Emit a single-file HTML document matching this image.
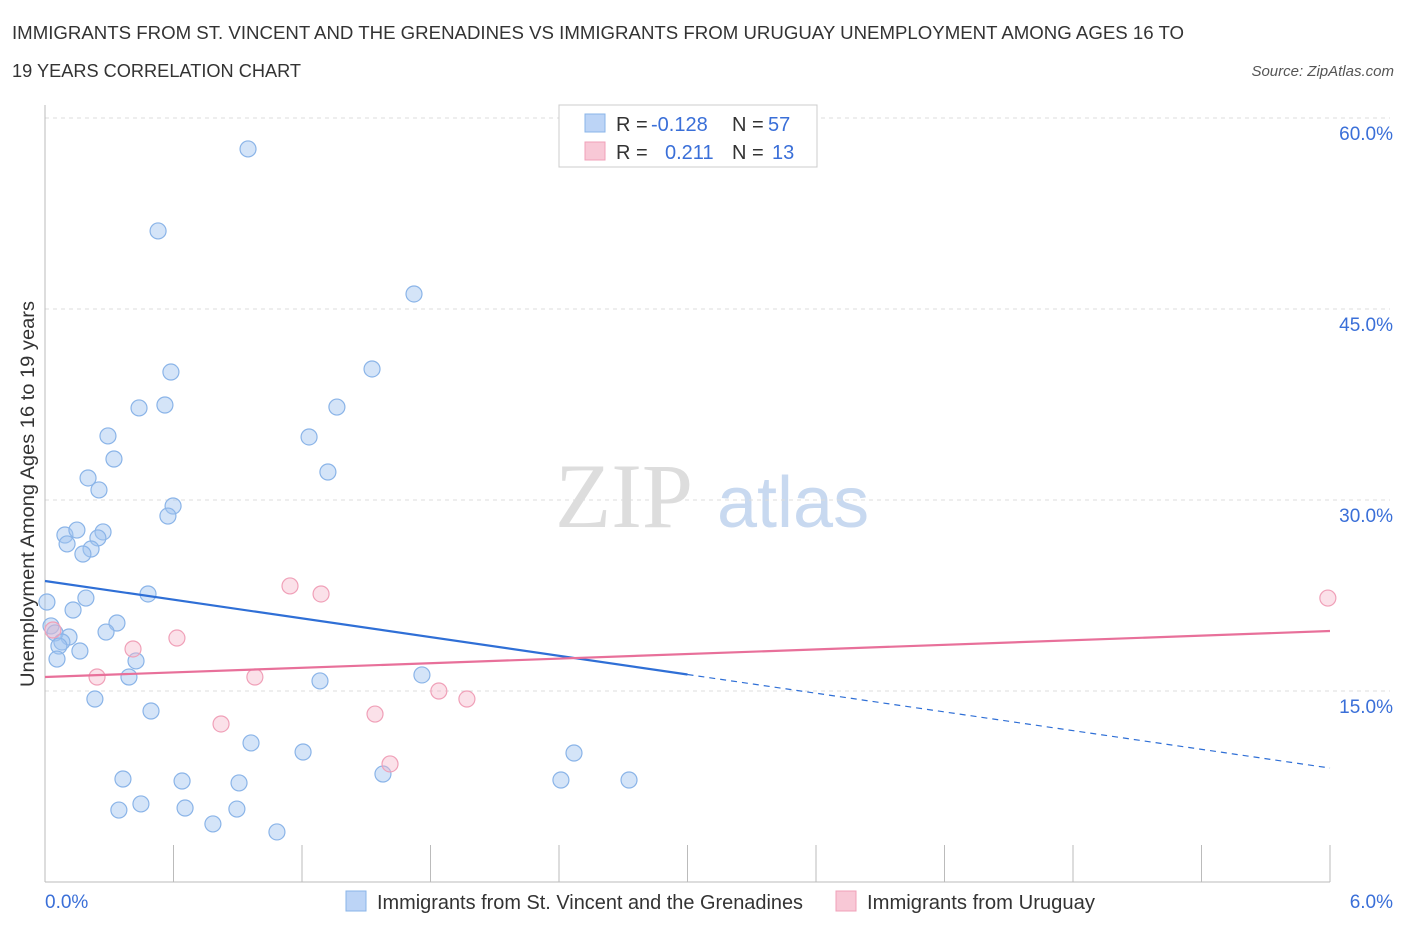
<!DOCTYPE html>
<html><head><meta charset="utf-8"><style>
body{margin:0;background:#fff;font-family:"Liberation Sans",sans-serif;}
</style></head><body>
<svg id="chart" width="1406" height="930" xmlns="http://www.w3.org/2000/svg" font-family="Liberation Sans, sans-serif">
<text x="12" y="39" font-size="18" fill="#333" textLength="1172" lengthAdjust="spacingAndGlyphs">IMMIGRANTS FROM ST. VINCENT AND THE GRENADINES VS IMMIGRANTS FROM URUGUAY UNEMPLOYMENT AMONG AGES 16 TO</text>
<text x="12" y="77" font-size="18" fill="#333" textLength="289" lengthAdjust="spacingAndGlyphs">19 YEARS CORRELATION CHART</text>
<text x="1394" y="76" font-size="15" fill="#555" text-anchor="end" font-style="italic">Source: ZipAtlas.com</text>
<text x="555" y="527" font-size="92" fill="#ddd" font-family="Liberation Serif, serif">ZIP</text>
<text x="717" y="527" font-size="72" fill="#c8d9f0">atlas</text>
<text transform="translate(34,494) rotate(-90)" font-size="19" fill="#333" text-anchor="middle" textLength="386" lengthAdjust="spacingAndGlyphs">Unemployment Among Ages 16 to 19 years</text>
<g id="grid"></g><g id="marks"></g>
<g font-size="20" fill="#333">
<rect x="559" y="105" width="258" height="62" fill="#fff" stroke="#ccc"/>
<rect x="585" y="114" width="20" height="18" fill="#bcd4f6" stroke="#8ab4e8"/>
<rect x="585" y="142" width="20" height="18" fill="#f8c8d6" stroke="#f0a0b8"/>
<text x="616" y="131">R =</text><text x="651" y="131" fill="#3a6fd8">-0.128</text>
<text x="732" y="131">N =</text><text x="768" y="131" fill="#3a6fd8">57</text>
<text x="616" y="159">R =</text><text x="665" y="159" fill="#3a6fd8">0.211</text>
<text x="732" y="159">N =</text><text x="772" y="159" fill="#3a6fd8">13</text>
</g>
<g>
<rect x="346" y="891" width="20" height="20" fill="#bcd4f6" stroke="#8ab4e8"/>
<text x="377" y="909" font-size="20" fill="#333" textLength="426" lengthAdjust="spacingAndGlyphs">Immigrants from St. Vincent and the Grenadines</text>
<rect x="836" y="891" width="20" height="20" fill="#f8c8d6" stroke="#f0a0b8"/>
<text x="867" y="909" font-size="20" fill="#333" textLength="228" lengthAdjust="spacingAndGlyphs">Immigrants from Uruguay</text>
</g>
</svg>
<script>
const blueX=[0.948,0.528,1.723,0.588,1.527,0.560,0.439,1.363,0.294,1.233,0.322,0.201,1.321,0.252,0.598,0.574,0.093,0.149,0.271,0.247,0.103,0.215,0.177,0.481,0.191,0.009,0.131,0.336,0.285,0.028,0.047,0.112,0.079,0.065,0.163,0.425,0.056,0.392,1.284,1.760,0.233,0.495,0.962,1.205,2.470,0.364,0.640,0.906,1.578,2.409,2.727,0.448,0.345,0.654,0.896,0.784,1.083];
const blueY=[57.57,51.13,46.18,40.05,40.29,37.46,37.23,37.30,35.03,34.95,33.22,31.73,32.20,30.79,29.53,28.74,27.25,27.64,27.49,27.02,26.55,26.15,25.76,22.62,22.30,21.99,21.36,20.34,19.63,20.11,19.56,19.24,18.85,18.53,18.14,17.36,17.51,16.10,15.79,16.26,14.37,13.43,10.92,10.21,10.13,8.09,7.93,7.78,8.48,8.01,8.01,6.13,5.65,5.81,5.73,4.56,3.93];
const pinkX=[1.144,1.289,5.99,0.616,0.037,0.411,0.243,0.980,1.839,1.970,0.822,1.541,1.611];
const pinkY=[23.25,22.62,22.30,19.16,19.79,18.30,16.10,16.10,15.00,14.37,12.41,13.19,9.27];
const blueTrend=[23.64,8.95]; const blueSolidEnd=3.0;
const pinkTrend=[16.10,19.71];
const yTicks=[15,30,45,60];
const xTicks=[0,0.6,1.2,1.8,2.4,3.0,3.6,4.2,4.8,5.4,6.0];
const NS="http://www.w3.org/2000/svg";
const sx=v=>45+v/6*1285, sy=v=>882-v/60*764;
function mk(t,a,p){const e=document.createElementNS(NS,t);for(const k in a)e.setAttribute(k,a[k]);p.appendChild(e);return e;}
const g=document.getElementById('grid'), m=document.getElementById('marks');
yTicks.forEach(t=>{const l=mk('line',{x1:45,x2:1390,y1:sy(t),y2:sy(t),stroke:'#ddd','stroke-dasharray':'4,4'},g);


const tx=mk('text',{x:1393,y:sy(t)+22,'font-size':19,fill:'#3a6fd8','text-anchor':'end'},g);tx.textContent=t.toFixed(1)+'%';

});
const ax=mk('line',{x1:45,x2:1330,y1:882,y2:882,stroke:'#bbb'},g);


const ay=mk('line',{x1:45,x2:45,y1:105,y2:882,stroke:'#bbb'},g);


xTicks.forEach(t=>{const l=mk('line',{x1:sx(t),x2:sx(t),y1:845,y2:882,stroke:'#bbb'},g);

});
[[0,'start',45],[6,'end',1393]].forEach(([v,a,x])=>{const tx=mk('text',{x:x,y:908,'font-size':19,fill:'#3a6fd8','text-anchor':a},g);tx.textContent=v.toFixed(1)+'%';

});
blueX.forEach((x,i)=>{const c=mk('circle',{cx:sx(x),cy:sy(blueY[i]),r:8,fill:'rgba(160,195,240,0.45)',stroke:'#8ab4e8','stroke-width':1.2},m);

});
pinkX.forEach((x,i)=>{const c=mk('circle',{cx:sx(x),cy:sy(pinkY[i]),r:8,fill:'rgba(245,180,200,0.4)',stroke:'#f0a0b8','stroke-width':1.2},m);

});
const by=x=>blueTrend[0]+(blueTrend[1]-blueTrend[0])*x/6;
const b1=mk('line',{x1:sx(0),y1:sy(by(0)),x2:sx(blueSolidEnd),y2:sy(by(blueSolidEnd)),stroke:'#2f6fd6','stroke-width':2.2},m);


const b2=mk('line',{x1:sx(blueSolidEnd),y1:sy(by(blueSolidEnd)),x2:sx(6),y2:sy(by(6)),stroke:'#2f6fd6','stroke-width':1.2,'stroke-dasharray':'6,5'},m);


const p1=mk('line',{x1:sx(0),y1:sy(pinkTrend[0]),x2:sx(6),y2:sy(pinkTrend[1]),stroke:'#e8709a','stroke-width':2.2},m);


</script>
</body></html>
